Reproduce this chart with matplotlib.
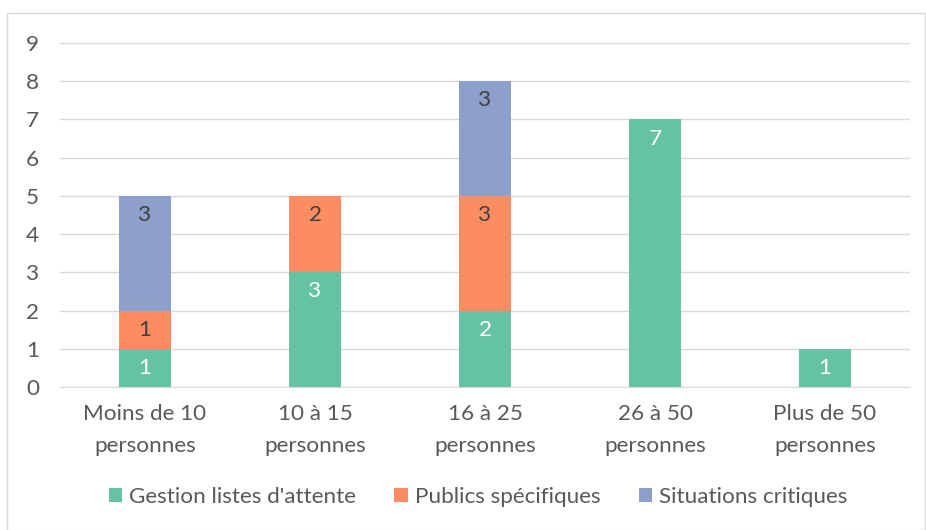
import matplotlib.pyplot as plt
import numpy as np
from matplotlib.patches import Rectangle

plt.rcParams['font.family'] = ['Lato', 'DejaVu Sans']

# data
categories = ["Moins de 10\npersonnes", "10 à 15\npersonnes", "16 à 25\npersonnes",
              "26 à 50\npersonnes", "Plus de 50\npersonnes"]
series_names = ["Gestion listes d'attente", "Publics spécifiques", "Situations critiques"]
gestion = [1, 3, 2, 7, 1]
publics = [1, 2, 3, 0, 0]
critiques = [3, 0, 3, 0, 0]

colors = ["#66c2a5", "#fc8d62", "#8da0cb"]
label_colors = ["white", "#404040", "#404040"]

W, H = 926, 530
fs = 16.2
fig = plt.figure(figsize=(W / 100, H / 100), dpi=100)
ax = fig.add_axes([60 / W, (H - 387) / H, 850 / W, 344 / H])

# outer frame
fig.patches.append(Rectangle((7 / W, 0), (W - 8) / W, (H - 13) / H, transform=fig.transFigure,
                             fill=False, edgecolor="#d9d9d9", linewidth=1))

x = np.arange(len(categories))
bottom = np.zeros(len(categories))
for vals, name, col, lc in zip([gestion, publics, critiques], series_names, colors, label_colors):
    vals = np.array(vals)
    bars = ax.bar(x, vals, width=0.31, bottom=bottom, color=col, label=name, zorder=3)
    for b, v, bt in zip(bars, vals, bottom):
        if v > 0:
            ax.text(b.get_x() + b.get_width() / 2, bt + v - 0.5, str(v),
                    ha="center", va="center", color=lc, fontsize=fs, zorder=4)
    bottom += vals

ax.set_xlim(-0.5, len(categories) - 0.5)
ax.set_ylim(0, 9)
ax.set_yticks(range(0, 10))
ax.yaxis.grid(True, color="#d9d9d9", linewidth=1, zorder=0)
ax.set_xticks(x)
ax.set_xticklabels(categories, fontsize=fs, color="#595959", linespacing=1.75)
ax.tick_params(axis="y", labelsize=fs, labelcolor="#595959", length=0, pad=15)
ax.tick_params(axis="x", length=0, pad=12)
for s in ["top", "right", "left"]:
    ax.spines[s].set_visible(False)
ax.spines["bottom"].set_color("#d9d9d9")

fig.legend(loc="center", bbox_to_anchor=(478 / W, (H - 497) / H), ncol=3, frameon=False,
           fontsize=fs, labelcolor="#595959", handlelength=0.6, handleheight=0.6,
           handletextpad=0.3, columnspacing=1.7)

fig.savefig("out.png", dpi=100)
